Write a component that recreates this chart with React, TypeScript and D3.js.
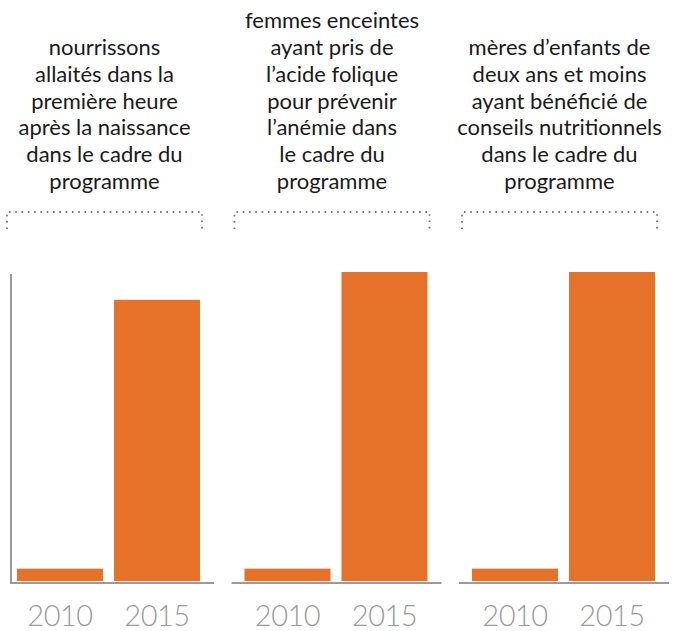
import * as d3 from 'd3';

const PANELS = ['allaitement', 'acide', 'conseils'];
const TITLES: string[][] = [
  ['nourrissons', 'allaités dans la', 'première heure', 'après la naissance', 'dans le cadre du', 'programme'],
  ['femmes enceintes', 'ayant pris de', 'l’acide folique', 'pour prévenir', 'l’anémie dans', 'le cadre du', 'programme'],
  ['mères d’enfants de', 'deux ans et moins', 'ayant bénéficié de', 'conseils nutritionnels', 'dans le cadre du', 'programme'],
];
const YEARS = ['2010', '2015'];
const VALUES_2010 = [4, 4, 4];
const VALUES_2015 = [91, 100, 100];

const W = 681;
const H = 631;
const ORANGE = '#E57228';
const GREY = '#9a9a9e';
const FONT = '"Lato", "Open Sans", sans-serif';

export default function App() {
  const x0 = d3.scaleBand<string>().domain(PANELS).range([4, 4 + 227.5 * 3]);
  const x1 = d3.scaleBand<string>().domain(YEARS).range([13, 196]).paddingInner(11 / 97);
  const y = d3.scaleLinear().domain([0, 100]).range([581, 272]);

  const lineH = 26.8;
  const lastLineY = 189;

  return (
    <svg width={W} height={H} style={{ position: 'absolute', left: 0, top: 0 }}>
      <rect width={W} height={H} fill="#fff" />
      {/* y axis line, first panel only */}
      <line x1={11} x2={11} y1={274} y2={584} stroke={GREY} strokeWidth={2} />
      {PANELS.map((p, i) => {
        const px = x0(p)!;
        const vals = [VALUES_2010[i], VALUES_2015[i]];
        const lines = TITLES[i];
        const cx = px + 100.5;
        return (
          <g key={p}>
            {lines.map((t, j) => (
              <text
                key={j}
                x={cx}
                y={lastLineY - (lines.length - 1 - j) * lineH}
                textAnchor="middle"
                fontFamily={FONT}
                fontSize={22}
                fill="#1a1a1a"
              >
                {t}
              </text>
            ))}
            <path
              d={`M${px + 3},229 V212 H${px + 198} V229`}
              fill="none"
              stroke="#777"
              strokeWidth={1.8}
              strokeDasharray="1.6,4.7"
            />
            {YEARS.map((yr, k) => (
              <rect
                key={yr}
                x={px + x1(yr)!}
                y={y(vals[k])}
                width={x1.bandwidth()}
                height={y(0) - y(vals[k])}
                fill={ORANGE}
              />
            ))}
            <line
              x1={i === 0 ? 10 : px}
              x2={px + 210}
              y1={583}
              y2={583}
              stroke={GREY}
              strokeWidth={2}
            />
            {YEARS.map((yr) => (
              <text
                key={yr}
                x={px + x1(yr)! + x1.bandwidth() / 2}
                y={626}
                textAnchor="middle"
                fontFamily={FONT}
                fontWeight={300}
                fontSize={29}
                letterSpacing={-0.5}
                fill={GREY}
              >
                {yr}
              </text>
            ))}
          </g>
        );
      })}
    </svg>
  );
}
